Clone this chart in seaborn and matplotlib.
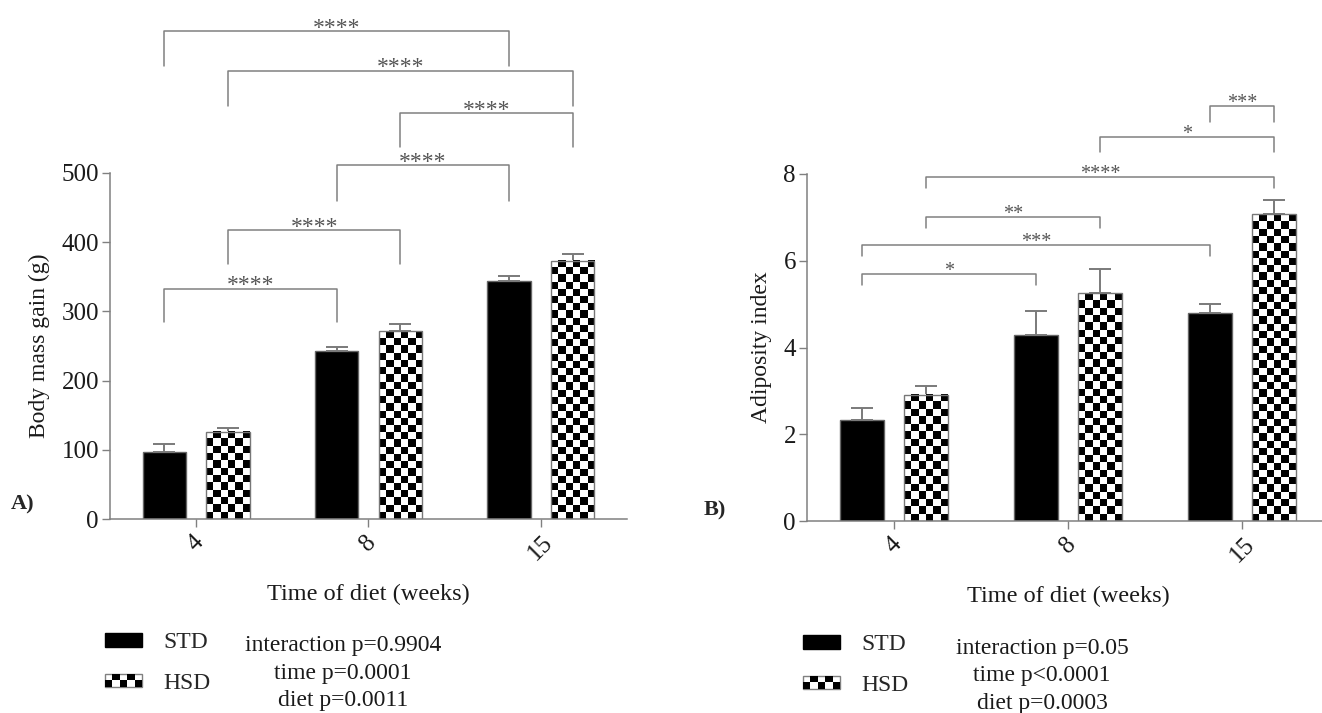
import numpy as np
import pandas as pd
import matplotlib.pyplot as plt
import seaborn as sns
from matplotlib.patches import Patch, Rectangle
from matplotlib.legend_handler import HandlerBase

weeks = ['4', '8', '15']
diets = ['STD', 'HSD']

# body mass gain (g), mean and SEM
mass_std = [97, 243, 344]
mass_hsd = [126, 271, 373]
mass_std_err = [11, 6, 7]
mass_hsd_err = [5, 11, 10]

# adiposity index, mean and SEM
adi_std = [2.33, 4.29, 4.79]
adi_hsd = [2.91, 5.25, 7.07]
adi_std_err = [0.28, 0.56, 0.21]
adi_hsd_err = [0.21, 0.57, 0.32]

# significance comparisons: (group, group, stars)
mass_sig = [(('STD', '4'), ('STD', '8'), '****'),
            (('HSD', '4'), ('HSD', '8'), '****'),
            (('STD', '8'), ('STD', '15'), '****'),
            (('HSD', '8'), ('HSD', '15'), '****'),
            (('HSD', '4'), ('HSD', '15'), '****'),
            (('STD', '4'), ('STD', '15'), '****')]
adi_sig = [(('STD', '4'), ('STD', '8'), '*'),
           (('STD', '4'), ('STD', '15'), '***'),
           (('HSD', '4'), ('HSD', '8'), '**'),
           (('HSD', '4'), ('HSD', '15'), '****'),
           (('HSD', '8'), ('HSD', '15'), '*'),
           (('STD', '15'), ('HSD', '15'), '***')]

mass_stats = ['interaction p=0.9904', 'time p=0.0001', 'diet p=0.0011']
adi_stats = ['interaction p=0.05', 'time p<0.0001', 'diet p=0.0003']

# bracket heights (line, leg bottom) in data units
mass_bracket_y = [(333, 284), (418, 369), (511, 459), (587, 538), (648, 597), (705, 655)]
adi_bracket_y = [(5.69, 5.45), (6.36, 6.12), (7.02, 6.76), (7.94, 7.67), (8.85, 8.5), (9.56, 9.21)]

sns.set_style('ticks')
plt.rcParams['font.family'] = ['Liberation Serif', 'DejaVu Serif']

W, H = 1322, 713
GREY = '#808080'
fig = plt.figure(figsize=(W / 100, H / 100), dpi=100)


def px(x0, y0, x1, y1):
    # pixel box -> figure fraction rect
    return [x0 / W, 1 - y1 / H, (x1 - x0) / W, (y1 - y0) / H]


class CheckerHandler(HandlerBase):
    def create_artists(self, legend, orig_handle, xdescent, ydescent, width, height, fontsize, trans):
        arts = [Rectangle((-xdescent, -ydescent), width, height, facecolor='white',
                          edgecolor=GREY, lw=1, transform=trans)]
        nc, nr = 5, 2
        cw, ch = width / nc, height / nr
        for i in range(nr):
            for j in range(nc):
                if (i + j) % 2 == 0:
                    arts.append(Rectangle((-xdescent + j * cw, -ydescent + i * ch), cw, ch,
                                          facecolor='black', edgecolor='none', transform=trans))
        return arts


def draw_panel(ax, std, hsd, std_err, hsd_err, ylim, yticks, ylabel, ylabelpad,
               sig, sig_y, star_size, star_off):
    df = pd.DataFrame({'week': weeks * 2,
                       'diet': ['STD'] * 3 + ['HSD'] * 3,
                       'value': list(std) + list(hsd)})
    sns.barplot(data=df, x='week', y='value', hue='diet', order=weeks, hue_order=diets,
                palette={'STD': 'black', 'HSD': 'white'}, width=0.74, gap=0.32,
                errorbar=None, edgecolor='#666666', linewidth=1, legend=False, ax=ax)
    ax.set_xlim(-0.5, 2.5)
    ax.set_ylim(*ylim)

    bars = sorted(ax.patches, key=lambda p: p.get_x())
    keys = [(d, w) for w in weeks for d in diets]
    errs = {}
    for i, w in enumerate(weeks):
        errs[('STD', w)] = std_err[i]
        errs[('HSD', w)] = hsd_err[i]
    xs = [p.get_x() + p.get_width() / 2 for p in bars]
    hs = [p.get_height() for p in bars]
    ax.errorbar(xs, hs, yerr=[np.zeros(len(xs)), [errs[k] for k in keys]], fmt='none',
                ecolor='#7a7a7a', elinewidth=1.4, capsize=7.8, capthick=1.4, zorder=1)

    # checkerboard fill for HSD bars
    for k, p in zip(keys, bars):
        if k[0] != 'HSD':
            continue
        x0, w, h = p.get_x(), p.get_width(), p.get_height()
        (px0, py0), (px1, py1) = ax.transData.transform([(x0, 0), (x0 + w, h)])
        cell = (px1 - px0) / 6
        nr = max(1, int(round((py1 - py0) / cell)))
        board = (np.indices((nr, 6)).sum(axis=0) + nr) % 2
        ax.imshow(board, cmap='gray', extent=(x0, x0 + w, 0, h), origin='lower',
                  aspect='auto', interpolation='nearest', zorder=2.1)
        p.set_facecolor('none')
        p.set_edgecolor('#777777')
        p.set_zorder(2.2)
    ax.set_xlim(-0.5, 2.5)
    ax.set_ylim(*ylim)

    centers = dict(zip(keys, xs))
    for (a, b, stars), (yl, yb) in zip(sig, sig_y):
        x1, x2 = centers[a], centers[b]
        ax.plot([x1, x1, x2, x2], [yb, yl, yl, yb], color=GREY, lw=1.1, clip_on=False)
        ax.annotate(stars, xy=((x1 + x2) / 2, yl), xytext=(0, star_off), textcoords='offset points',
                    ha='center', va='baseline', fontsize=star_size, color='#555555',
                    annotation_clip=False)

    sns.despine(ax=ax)
    for s in ('left', 'bottom'):
        ax.spines[s].set_color(GREY)
        ax.spines[s].set_linewidth(1.1)
    ax.set_yticks(yticks)
    ax.tick_params(axis='y', length=6, width=1, color=GREY, labelcolor='#1a1a1a', labelsize=18, pad=2)
    ax.tick_params(axis='x', length=6, width=1, color=GREY, labelcolor='#1a1a1a', labelsize=18, pad=3)
    for lab in ax.get_xticklabels():
        lab.set_rotation(45)
    ax.set_ylabel(ylabel, fontsize=17, labelpad=ylabelpad, color='#1a1a1a')
    ax.set_xlabel('Time of diet (weeks)', fontsize=17.5, labelpad=14, color='#1a1a1a')


ax_a = fig.add_axes(px(110, 173, 627, 519))
draw_panel(ax_a, mass_std, mass_hsd, mass_std_err, mass_hsd_err, (0, 500),
           [0, 100, 200, 300, 400, 500], 'Body mass gain (g)', 8,
           mass_sig, mass_bracket_y, 17, -2)

ax_b = fig.add_axes(px(807, 174, 1329, 521))
draw_panel(ax_b, adi_std, adi_hsd, adi_std_err, adi_hsd_err, (0, 8),
           [0, 2, 4, 6, 8], 'Adiposity index', 8,
           adi_sig, adi_bracket_y, 14.5, -1.5)

fig.text(11 / W, 1 - 504 / H, 'A)', fontsize=16, fontweight='bold', va='center')
fig.text(704 / W, 1 - 510 / H, 'B)', fontsize=16, fontweight='bold', va='center')

handles = [Patch(facecolor='black', edgecolor='black'), Patch(facecolor='white')]
for ax, lx, ly, stats, sx, sy in [(ax_a, 105, 632, mass_stats, 343, 673),
                                  (ax_b, 803, 634, adi_stats, 1042, 676)]:
    ax.legend(handles, diets, handler_map={handles[1]: CheckerHandler()},
              loc='upper left', bbox_to_anchor=(lx / W, 1 - ly / H), bbox_transform=fig.transFigure,
              frameon=False, fontsize=17, handlelength=1.57, handleheight=0.52,
              handletextpad=0.9, labelspacing=0.84, borderpad=0, borderaxespad=0)
    fig.text(sx / W, 1 - sy / H, '\n'.join(stats), ha='center', va='center',
             multialignment='center', fontsize=17, linespacing=1.4, color='#1a1a1a')

fig.savefig('out.png', dpi=100)
